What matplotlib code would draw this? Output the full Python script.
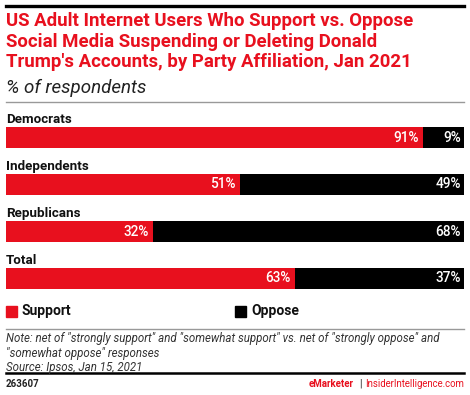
import numpy as np
import matplotlib.pyplot as plt
from matplotlib.patches import Rectangle

groups = ["Democrats", "Independents", "Republicans", "Total"]
support = [91, 51, 32, 63]
oppose = [9, 49, 68, 37]

RED = "#e8101e"
BLACK = "#000000"
FONT = "Roboto"

plt.rcParams["font.family"] = [FONT, "DejaVu Sans"]

W, H = 470, 395
fig = plt.figure(figsize=(W / 100, H / 100), dpi=100)


def fx(px):
    return px / W


def fy(py):
    return 1 - py / H


# rules
fig.add_artist(plt.Line2D([fx(6), fx(464)], [fy(6), fy(6)], color=BLACK, lw=2.4))
fig.add_artist(plt.Line2D([fx(6), fx(464)], [fy(102), fy(102)], color="#999999", lw=1.0))
fig.add_artist(plt.Line2D([fx(6), fx(464)], [fy(329), fy(329)], color="#999999", lw=1.0))
fig.add_artist(plt.Line2D([fx(6), fx(464)], [fy(373), fy(373)], color=BLACK, lw=1.8))

title = ("US Adult Internet Users Who Support vs. Oppose\n"
         "Social Media Suspending or Deleting Donald\n"
         "Trump's Accounts, by Party Affiliation, Jan 2021")
fig.text(fx(6), fy(12.5), title, color=RED, fontsize=13.4, fontweight="bold",
         va="top", ha="left", linespacing=1.16)
fig.text(fx(6), fy(88), "% of respondents", color="#222222", fontsize=13.5,
         style="italic", va="center", ha="left")

# bars
ax = fig.add_axes([fx(6), fy(302), fx(458), 188 / H])
y = np.arange(len(groups))
ax.barh(y, support, height=0.447, color=RED, edgecolor="none")
ax.barh(y, oppose, left=support, height=0.447, color=BLACK, edgecolor="none")
ax.set_xlim(0, 100)
ax.set_ylim(len(groups) - 0.5, -0.5)
ax.axis("off")
for i, g in enumerate(groups):
    ax.text(0, i - 0.39, g, fontsize=9.6, fontweight="bold", color="#111111",
            va="center", ha="left")
    ax.text(support[i] - 0.9, i, f"{support[i]}%", color="white", fontsize=9.8,
            fontweight="medium", va="center", ha="right")
    ax.text(99.3, i, f"{oppose[i]}%", color="white", fontsize=9.8,
            fontweight="medium", va="center", ha="right")

# legend
fig.add_artist(Rectangle((fx(6), fy(317)), fx(11), 11 / H, color=RED))
fig.text(fx(22), fy(311.5), "Support", fontsize=10, fontweight="bold",
         va="center", ha="left", color="#111111")
fig.add_artist(Rectangle((fx(235), fy(317)), fx(11), 11 / H, color=BLACK))
fig.text(fx(251), fy(311.5), "Oppose", fontsize=10, fontweight="bold",
         va="center", ha="left", color="#111111")

note = ('Note: net of "strongly support" and "somewhat support" vs. net of "strongly oppose" and\n'
        '"somewhat oppose" responses\n'
        'Source: Ipsos, Jan 15, 2021')
fig.text(fx(6), fy(332), note, fontsize=8.3, style="italic", color="#333333",
         va="top", ha="left", linespacing=1.17)

fig.text(fx(6), fy(384), "263607", fontsize=7, fontweight="bold", va="center",
         ha="left", color="#222222")
fig.text(fx(464), fy(384), "InsiderIntelligence.com", fontsize=6.9, color=RED,
         va="center", ha="right")
fig.text(fx(360), fy(384), "|", fontsize=7, color="#222222", va="center",
         ha="center")
fig.text(fx(354), fy(384), "eMarketer", fontsize=7, fontweight="bold",
         color=RED, va="center", ha="right")

fig.savefig("out.png", dpi=100)
